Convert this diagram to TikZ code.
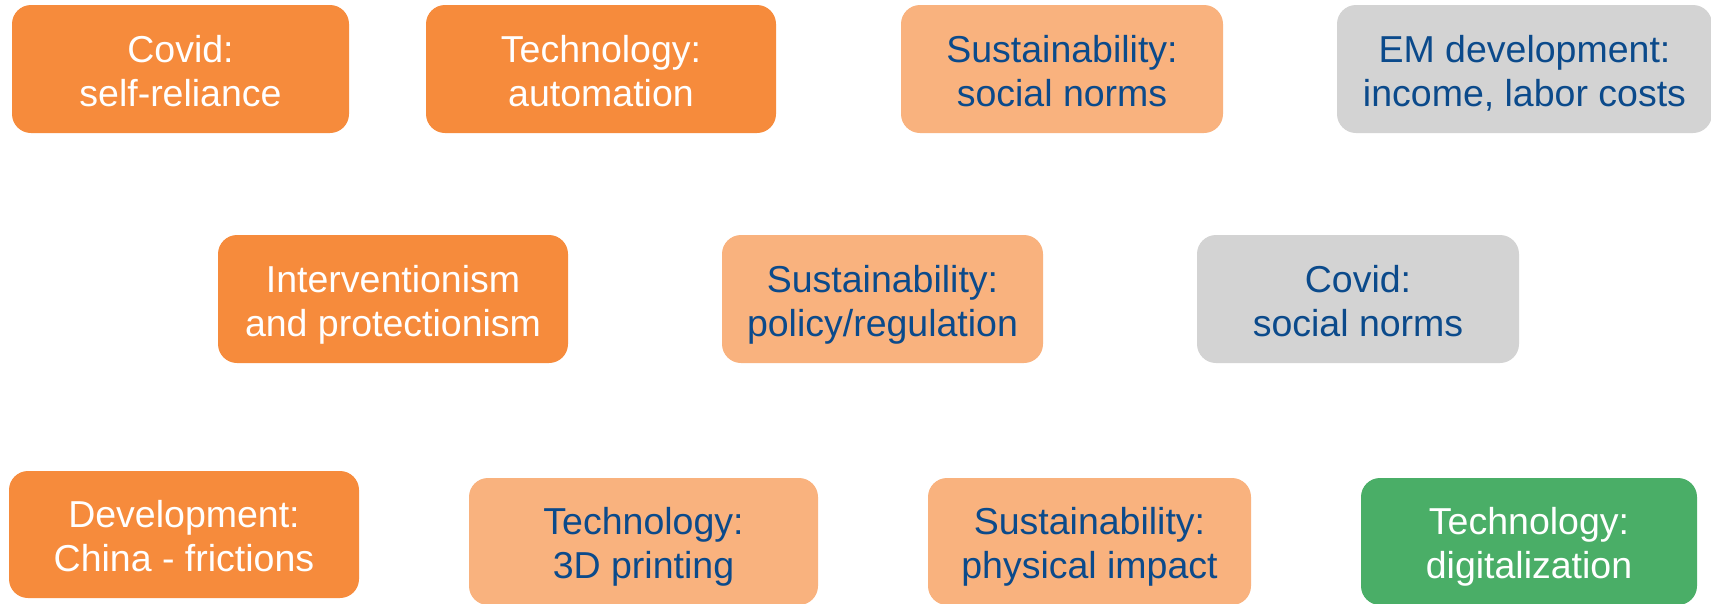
\documentclass[tikz,border=0pt]{standalone}
\usepackage{fontspec}
\setmainfont{Liberation Sans}
\definecolor{dorange}{HTML}{F68B3C}
\definecolor{lorange}{HTML}{F9B27E}
\definecolor{lgray}{HTML}{D3D3D3}
\definecolor{dgreen}{HTML}{4AAE67}
\definecolor{tblue}{HTML}{0B4A8B}
\tikzset{
  card/.style={rounded corners=19pt, inner sep=0pt, align=center,
    font=\fontsize{37.5}{44}\selectfont, text height=74pt, text depth=0pt},
  hot/.style={card, fill=dorange, text=white},
  warm/.style={card, fill=lorange, text=tblue},
  cool/.style={card, fill=lgray, text=tblue},
  fresh/.style={card, fill=dgreen, text=white},
  sz/.style 2 args={minimum width=#1pt, minimum height=#2pt}
}
\begin{document}
\begin{tikzpicture}[x=1pt,y=-1pt]
\useasboundingbox (0,0) rectangle (1711,603);
% row 1
\node[hot, sz={337}{128}] (n1) at (180.5,69) {Covid:\\self-reliance};
\node[hot, sz={350}{128}] (n2) at (601,69) {Technology:\\automation};
\node[warm, sz={322}{128}] (n3) at (1062,69) {Sustainability:\\social norms};
\node[cool, sz={375}{128}] (n4) at (1524.5,69) {EM development:\\income, labor costs};
% row 2
\node[hot, sz={350}{128}] (n5) at (393,299) {Interventionism\\and protectionism};
\node[warm, sz={321}{128}] (n6) at (882.5,299) {Sustainability:\\policy/regulation};
\node[cool, sz={322}{128}] (n7) at (1358,299) {Covid:\\social norms};
% row 3
\node[hot, sz={350}{127}] (n8) at (184,534.5) {Development:\\China - frictions};
\node[warm, sz={349}{127}] (n9) at (643.5,541.5) {Technology:\\3D printing};
\node[warm, sz={323}{127}] (n10) at (1089.5,541.5) {Sustainability:\\physical impact};
\node[fresh, sz={336}{127}] (n11) at (1529,541.5) {Technology:\\digitalization};
\end{tikzpicture}
\end{document}
